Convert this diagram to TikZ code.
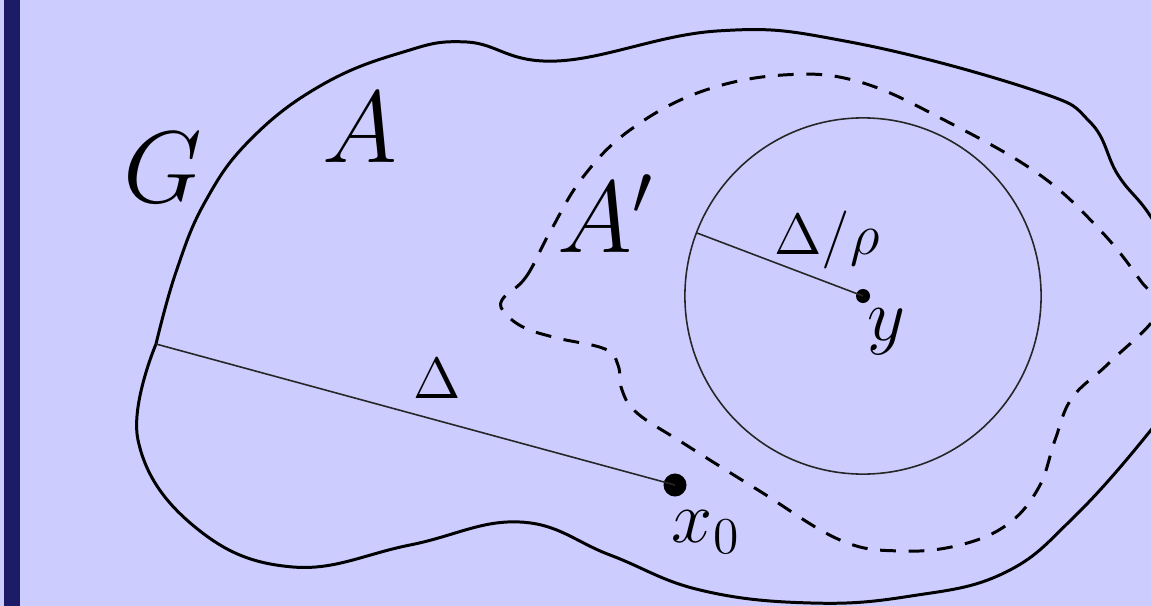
\RequirePackage{fix-cm}
\documentclass[tikz,border=0pt]{standalone}
\usepackage{tikz}
\usetikzlibrary{calc}
\definecolor{slidebg}{HTML}{CCCCFF}
\definecolor{slidebar}{HTML}{1B1B66}

\begin{document}
\begin{tikzpicture}[x=0.01cm, y=-0.01cm,
  outline/.style={line width=0.85pt, line join=round},
  innerline/.style={line width=0.85pt, dash pattern=on 4.5pt off 3.6pt},
  thinline/.style={line width=0.45pt, black!85},
  bigdot/.style={circle, fill=black, inner sep=0pt, minimum size=0.23cm},
  smalldot/.style={circle, fill=black, inner sep=0pt, minimum size=0.14cm},
  biglabel/.style={font=\fontsize{29}{32}\selectfont, inner sep=0pt, anchor=base},
  ptlabel/.style={font=\fontsize{21}{24}\selectfont, inner sep=0pt, anchor=base},
  lenlabel/.style={font=\fontsize{16.5}{19}\selectfont, inner sep=0pt, anchor=base},
]
% slide background (pixel grid 1151 x 606, y downwards)
\fill[slidebg] (0,0) rectangle (1151,606);
\fill[slidebar] (4,0) rectangle (20,606);
\clip (0,0) rectangle (1151,606);

% outer domain G (corner at the start of the Delta segment)
\coordinate (gcorner) at (156,344);
\draw[outline] plot[smooth, tension=0.7] coordinates {
  (156,344) (176,272) (205,202) (250,140) (320,86) (400,53) (467,42)
  (557,61) (717,31) (850,42) (1033,90) (1090,122) (1118,175)
  (1151,217) (1185,280) (1185,380) (1151,430) (1074,517) (1004,573)
  (911,596) (811,603) (700,590) (610,555) (520,522) (410,545) (293,567)
  (195,527) (138,440) (156,344)};

% subdomain A' (dashed)
\draw[innerline] plot[smooth cycle, tension=0.65] coordinates {
  (502,300) (526,277) (550,232) (583,177) (630,130) (700,92) (783,75)
  (860,82) (950,123) (1040,175) (1100,230) (1140,280) (1158,312)
  (1109,363) (1072,398) (1055,440) (1039,487) (1008,524) (960,545)
  (900,551) (840,540) (758,490) (683,443) (637,413) (622,390) (618,365)
  (605,349) (557,338) (525,328) (506,314)};

% points and radii
\node[bigdot] (xdot) at (675,485) {};
\node[smalldot] (ydot) at (863,296) {};
\coordinate (rim) at (697,233);
\draw[thinline] (ydot.center) circle [radius=1.78cm];
\draw[thinline] (gcorner) -- (xdot.center);
\draw[thinline] (rim) -- (ydot.center);

% labels
\node[biglabel] (glab) at (163,202) {$G$};
\node[biglabel] (alab) at (360,162) {$A$};
\node[biglabel] (aplab) at (606,252) {$A'$};
\node[lenlabel] (dlab) at (437,398) {$\Delta$};
\node[lenlabel] (drlab) at (827,254) {$\Delta/\rho$};
\node[ptlabel] (ylab) at (886,340) {$y$};
\node[ptlabel] (xlab) at (706,542) {$x_0$};
\end{tikzpicture}
\end{document}
